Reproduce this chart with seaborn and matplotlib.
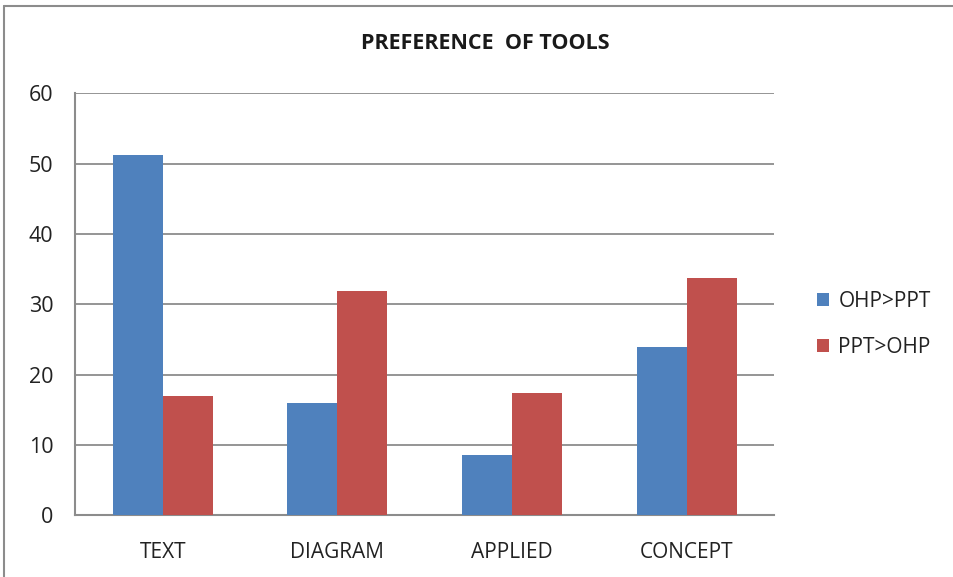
import matplotlib
matplotlib.use("Agg")
import matplotlib.pyplot as plt
from matplotlib.lines import Line2D
import seaborn as sns
import pandas as pd

categories = ["TEXT", "DIAGRAM", "APPLIED", "CONCEPT"]
series_names = ["OHP>PPT", "PPT>OHP"]
ohp_gt_ppt = [51.2, 16.0, 8.6, 24.0]
ppt_gt_ohp = [16.9, 31.9, 17.4, 33.7]
y_ticks = [0, 10, 20, 30, 40, 50, 60]
title = "PREFERENCE  OF TOOLS"

df = pd.DataFrame({
    "category": categories * 2,
    "series": [series_names[0]] * 4 + [series_names[1]] * 4,
    "value": ohp_gt_ppt + ppt_gt_ohp,
})

sns.set_theme(style="white")
plt.rcParams["font.family"] = ["Open Sans", "DejaVu Sans"]

fig = plt.figure(figsize=(9.54, 5.77), dpi=100)
ax = fig.add_axes([0.0791, 0.1069, 0.8113 - 0.0791, 0.8383 - 0.1069])

sns.barplot(data=df, x="category", y="value", hue="series", order=categories,
            hue_order=series_names, palette=["#4F81BD", "#C0504D"],
            width=0.573, gap=0, ax=ax, legend=True, saturation=1,
            edgecolor="none", linewidth=0, zorder=3)

ax.set_xlim(-0.5, 3.5)
ax.set_ylim(0, 60)
ax.set_yticks(y_ticks)
ax.set_yticklabels([str(t) for t in y_ticks], fontsize=15.5, color="#222222")
ax.tick_params(axis="x", labelsize=15, colors="#222222", length=0, pad=19)
ax.tick_params(axis="y", length=0, pad=16)
ax.set_xlabel("")
ax.set_ylabel("")
ax.yaxis.grid(True, color="#8c8c8c", linewidth=1.3, zorder=0)
ax.set_axisbelow(True)
for s in ["top", "right"]:
    ax.spines[s].set_visible(False)
for s in ["left", "bottom"]:
    ax.spines[s].set_color("#8c8c8c")
    ax.spines[s].set_linewidth(1.5)

fig.text(0.509, 0.924, title, ha="center", va="center", fontsize=15.5,
         fontweight="bold", color="#1a1a1a")

leg = ax.legend(loc="center left", bbox_to_anchor=(1.046, 0.452), frameon=False,
                fontsize=15, handlelength=0.6, handleheight=0.6, borderpad=0,
                handletextpad=0.45, labelspacing=1.2)
for t in leg.get_texts():
    t.set_color("#222222")

# outer frame
fig.add_artist(Line2D([0.0042, 1.0], [0.9896, 0.9896], transform=fig.transFigure,
                      color="#8c8c8c", linewidth=1.5))
fig.add_artist(Line2D([0.0042, 0.0042], [0.0, 0.9896], transform=fig.transFigure,
                      color="#8c8c8c", linewidth=1.5))

fig.savefig("out.png", dpi=100)
